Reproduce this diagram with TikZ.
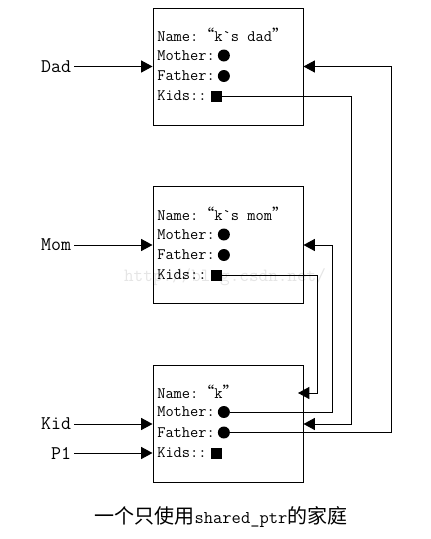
\documentclass[tikz,border=0pt]{standalone}
\usepackage{fontspec}
\newfontfamily\cjk{Noto Sans CJK SC}
\usetikzlibrary{arrows.meta,positioning}

\tikzset{
	famBox/.style={draw, line width=0.75pt, minimum width=112.5pt, minimum height=87.75pt, inner sep=0pt},
	field/.style={anchor=west, inner sep=0pt, font=\ttfamily\fontsize{12}{14}\selectfont},
	handle/.style={anchor=east, inner sep=2pt, font=\ttfamily\fontsize{14.5}{16}\selectfont},
	dot/.style={circle, fill=black, inner sep=0pt, minimum size=9pt},
	sq/.style={rectangle, fill=black, inner sep=0pt, minimum size=8.25pt},
	ptr/.style={-{Triangle[length=8.5pt,width=9pt]}, line width=0.75pt}
}
\newcommand\qopen{{\cjk “}}
\newcommand\qclose{{\cjk ”}}

\begin{document}
\begin{tikzpicture}[x=0.75pt,y=-0.75pt]
		%%%%% START %%%%%
		\useasboundingbox (0,0) rectangle (431,539);
		
		\node[text=gray!20, font=\ttfamily\fontsize{14}{16}\selectfont] (mark) at (225,277) {http://blog.csdn.net/};
		
		% the three objects
		\node[famBox] (dadBox) at (228,66.5) {};
		\node[famBox] (momBox) at (228,245) {};
		\node[famBox] (kidBox) at (228,424) {};
		
		\node[field] (dadName) at (157,35) {Name:\qopen k\textasciigrave s dad\qclose};
		\node[field] (dadMother) at (157,55.5) {Mother:};
		\node[field] (dadFather) at (157,76) {Father:};
		\node[field] (dadKids) at (157,96) {Kids::};
		\node[dot, right=1.8pt of dadMother] (dadMotherDot) {};
		\node[dot, right=1.8pt of dadFather] (dadFatherDot) {};
		\node[sq, right=2.5pt of dadKids] (dadKidsSq) {};
		
		\node[field] (momName) at (157,214) {Name:\qopen k\textasciigrave s mom\qclose};
		\node[field] (momMother) at (157,234.5) {Mother:};
		\node[field] (momFather) at (157,255) {Father:};
		\node[field] (momKids) at (157,275) {Kids::};
		\node[dot, right=1.8pt of momMother] (momMotherDot) {};
		\node[dot, right=1.8pt of momFather] (momFatherDot) {};
		\node[sq, right=2.5pt of momKids] (momKidsSq) {};
		
		\node[field] (kidName) at (157,392) {Name:\qopen k\qclose};
		\node[field] (kidMother) at (157,412) {Mother:};
		\node[field] (kidFather) at (157,432.5) {Father:};
		\node[field] (kidKids) at (157,453) {Kids::};
		\node[dot, right=1.8pt of kidMother] (kidMotherDot) {};
		\node[dot, right=1.8pt of kidFather] (kidFatherDot) {};
		\node[sq, right=2.5pt of kidKids] (kidKidsSq) {};
		
		% the handles
		\node[handle] (dadLbl) at (74,66.5) {Dad};
		\node[handle] (momLbl) at (74,245) {Mom};
		\node[handle] (kidLbl) at (74,424) {Kid};
		\node[handle] (p1Lbl) at (74,453) {P1};
		
		\draw[ptr] (dadLbl) -- (dadBox.west);
		\draw[ptr] (momLbl) -- (momBox.west);
		\draw[ptr] (kidLbl) -- (kidBox.west);
		\draw[ptr] (p1Lbl) -- (kidBox.west |- p1Lbl);
		
		% shared pointers
		\coordinate (dadTurn) at (391,66.5);
		\coordinate (dadDrop) at (351,424);
		\coordinate (momTurn) at (332,245);
		\coordinate (momDrop) at (317,393);
		\coordinate (kidTip) at (298,393);
		
		\draw[ptr] (kidFatherDot.east) -| (dadTurn) -- (dadBox.east);
		\draw[ptr] (dadKidsSq.east) -| (dadDrop) -- (kidBox.east);
		\draw[ptr] (kidMotherDot.east) -| (momTurn) -- (momBox.east);
		\draw[ptr] (momKidsSq.east) -| (momDrop) -- (kidTip);
		
		\node[font=\fontsize{15}{17}\selectfont] (caption) at (221,517) {{\cjk 一个只使用}{\ttfamily\fontsize{13.5}{17}\selectfont shared\_ptr}{\cjk 的家庭}};
		
		%%%%% END %%%%%
	\end{tikzpicture}
\end{document}
